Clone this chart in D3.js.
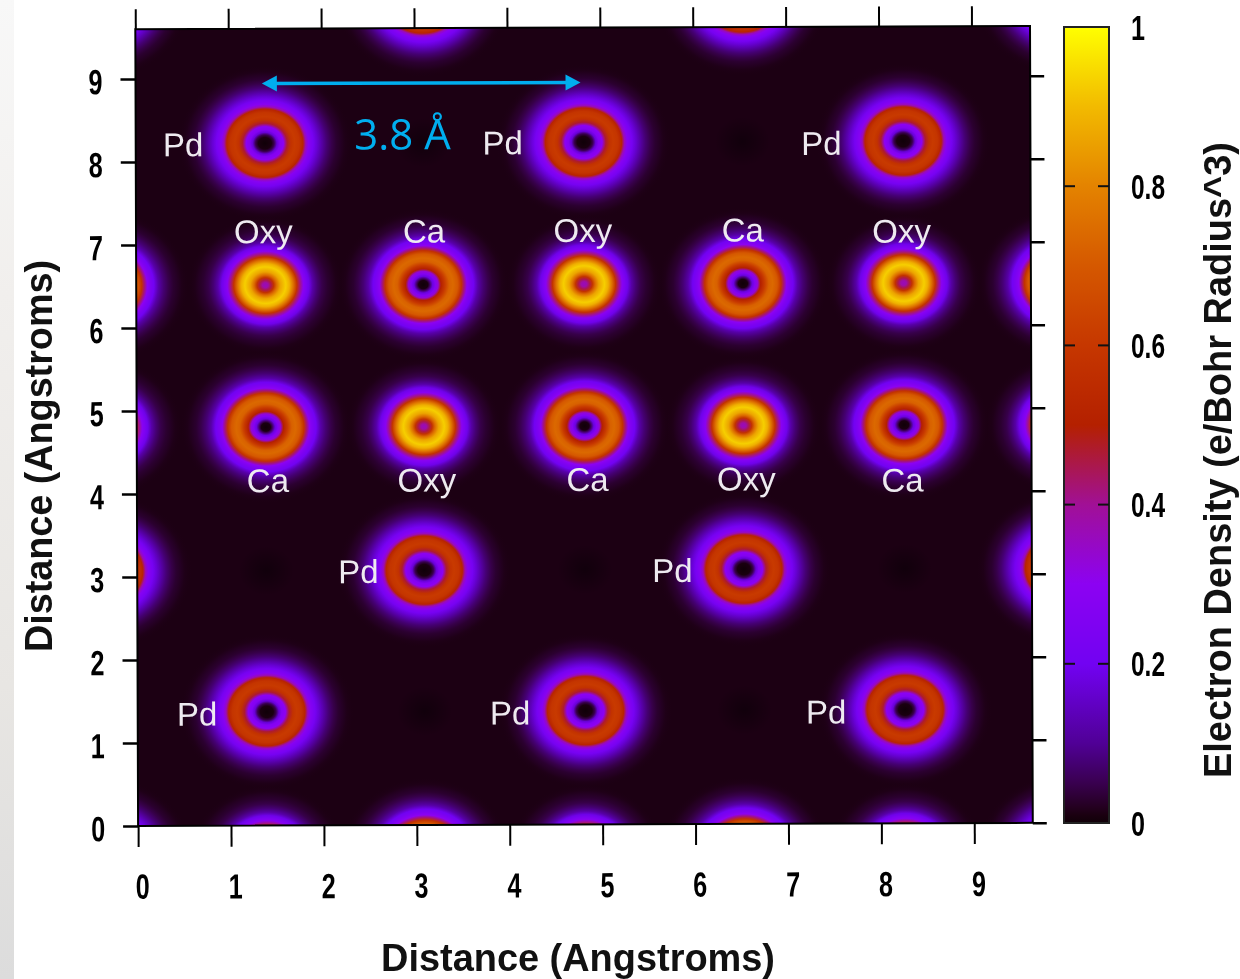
<!DOCTYPE html>
<html>
<head>
<meta charset="utf-8">
<script src="https://cdn.jsdelivr.net/npm/d3@7"></script>
<style>
    html, body { margin: 0; background: #fff; }
    svg { display: block; filter: blur(0.45px); }
    .num { font-family: "Liberation Sans", sans-serif; font-size: 35px; font-weight: 700; fill: #000; }
    .title { font-family: "Liberation Sans", sans-serif; font-size: 38px; font-weight: 700; fill: #111; }
    .atom { font-family: "Liberation Sans", sans-serif; font-size: 33px; fill: #eeeaf0; text-anchor: middle; }
</style>
</head>
<body>
<svg id="chart" width="1240" height="979"></svg>
<script>
// ticks
const distanceTicks = [0, 1, 2, 3, 4, 5, 6, 7, 8, 9];
const densityTicks = [0, 0.2, 0.4, 0.6, 0.8, 1];

// colour bar
const barValues = [0, 0.01, 0.02, 0.05, 0.1, 0.2, 0.3, 0.4, 0.5, 0.6, 0.7, 0.8, 0.9, 1];
const barColours = ['#100008', '#1a0010', '#240020', '#39004f', '#500096', '#7202f2', '#8c02f2', '#a11096', '#b42000', '#c63700', '#d55800', '#e48300', '#f2ba00', '#ffff00'];

// density between the atoms
const backgroundDensity = 0.012;

// radial profiles of each species: radius in Angstroms, density
const caRadius = [0, 0.05, 0.07, 0.10, 0.13, 0.16, 0.19, 0.23, 0.28, 0.32, 0.37, 0.41, 0.44, 0.47, 0.50, 0.54, 0.59, 0.645, 0.70, 0.75, 0.84, 0.92];
const caDensity = [0, 0.01, 0.06, 0.18, 0.27, 0.33, 0.50, 0.60, 0.72, 0.74, 0.70, 0.58, 0.42, 0.30, 0.25, 0.20, 0.12, 0.075, 0.047, 0.03, 0.015, 0.012];
const oxyRadius = [0, 0.03, 0.06, 0.09, 0.12, 0.16, 0.22, 0.26, 0.30, 0.34, 0.38, 0.41, 0.44, 0.47, 0.51, 0.56, 0.61, 0.67, 0.76, 0.84];
const oxyDensity = [0.36, 0.38, 0.45, 0.58, 0.74, 0.86, 0.93, 0.88, 0.76, 0.58, 0.40, 0.29, 0.24, 0.19, 0.12, 0.075, 0.047, 0.03, 0.015, 0.012];
const pdRadius = [0, 0.07, 0.10, 0.13, 0.16, 0.20, 0.24, 0.28, 0.32, 0.37, 0.41, 0.44, 0.47, 0.52, 0.56, 0.61, 0.665, 0.72, 0.77, 0.86, 0.94];
const pdDensity = [0, 0.01, 0.05, 0.17, 0.26, 0.30, 0.47, 0.58, 0.61, 0.59, 0.52, 0.36, 0.28, 0.22, 0.17, 0.12, 0.075, 0.047, 0.03, 0.015, 0.012];

// atom sites: species, x, y
const atoms = [
    ['Pd', 1.39, 8.22], ['Pd', 4.82, 8.22], ['Pd', 8.26, 8.22],
    ['Oxy', 1.39, 6.51], ['Ca', 3.09, 6.51], ['Oxy', 4.82, 6.51], ['Ca', 6.53, 6.51], ['Oxy', 8.26, 6.51],
    ['Ca', 1.39, 4.80], ['Oxy', 3.09, 4.80], ['Ca', 4.82, 4.80], ['Oxy', 6.53, 4.80], ['Ca', 8.26, 4.80],
    ['Pd', 3.09, 3.07], ['Pd', 6.53, 3.07],
    ['Pd', 1.39, 1.37], ['Pd', 4.82, 1.37], ['Pd', 8.26, 1.37],
    // sites just outside the frame, only their edge shows
    ['Ca', -0.35, 6.51], ['Ca', 9.97, 6.51], ['Oxy', -0.35, 4.80], ['Oxy', 9.97, 4.80],
    ['Pd', -0.35, 3.07], ['Pd', 9.97, 3.07],
    ['Pd', 3.09, 9.95], ['Pd', 6.53, 9.95],
    ['Ca', 3.09, -0.35], ['Ca', 6.53, -0.35],
    ['Oxy', 1.39, -0.35], ['Oxy', 4.82, -0.35], ['Oxy', 8.26, -0.35],
    ['Pd', -0.35, 9.95], ['Pd', 9.97, 9.95], ['Pd', -0.35, -0.35], ['Pd', 9.97, -0.35]
];

// darker empty sites
const emptySites = [[1.39, 3.07], [4.82, 3.07], [8.26, 3.07], [3.09, 1.37], [6.53, 1.37], [6.53, 8.22], [3.09, 8.22]];

// atom labels: text, x, y of the label centre
const atomLabels = [
    ['Pd', 0.51, 8.17], ['Pd', 3.95, 8.18], ['Pd', 7.38, 8.16],
    ['Oxy', 1.37, 7.12], ['Ca', 3.10, 7.12], ['Oxy', 4.81, 7.12], ['Ca', 6.53, 7.12], ['Oxy', 8.24, 7.10],
    ['Ca', 1.41, 4.12], ['Oxy', 3.12, 4.12], ['Ca', 4.85, 4.12], ['Oxy', 6.56, 4.12], ['Ca', 8.24, 4.10],
    ['Pd', 2.38, 3.02], ['Pd', 5.76, 3.02],
    ['Pd', 0.64, 1.31], ['Pd', 4.01, 1.31], ['Pd', 7.41, 1.31]
];

// 3.8 A arrow
const arrowX = [1.36, 4.79];
const arrowY = 8.94;
const arrowLabel = '3.8 Å';

const svg = d3.select('#chart');
const defs = svg.append('defs');

const colour = d3.scaleLinear().domain(barValues).range(barColours);

// Faded picture strip on the left of the slide
const strip = defs.append('linearGradient').attr('id', 'strip').attr('x1', 0).attr('x2', 0).attr('y1', 0).attr('y2', 1);
strip.append('stop').attr('offset', 0).attr('stop-color', '#f8f8f8');
strip.append('stop').attr('offset', 0.3).attr('stop-color', '#f1efed');
strip.append('stop').attr('offset', 0.7).attr('stop-color', '#e8e6e3');
strip.append('stop').attr('offset', 1).attr('stop-color', '#dcdcdc');
svg.append('rect').attr('width', 14).attr('height', 979).attr('fill', 'url(#strip)');

// Plot is a slightly tilted screenshot
const plot = svg.append('g').attr('transform', 'rotate(-0.2 585 427)');

const x = d3.scaleLinear().domain([0, 9.63]).range([136.7, 1031.4]);
const y = d3.scaleLinear().domain([0, 9.6]).range([824.4, 27.6]);

defs.append('clipPath').attr('id', 'frame').append('rect')
    .attr('x', x(0)).attr('y', y(9.6)).attr('width', x(9.63) - x(0)).attr('height', y(0) - y(9.6));

const radial = (id, radius, density) => {
    const max = d3.max(radius);
    const g = defs.append('radialGradient').attr('id', id);
    radius.forEach((r, i) => {
        g.append('stop').attr('offset', r / max).attr('stop-color', colour(density[i]))
            .attr('stop-opacity', i === radius.length - 1 ? 0 : 1);
    });
};
radial('Ca', caRadius, caDensity);
radial('Oxy', oxyRadius, oxyDensity);
radial('Pd', pdRadius, pdDensity);

const hole = defs.append('radialGradient').attr('id', 'hole');
hole.append('stop').attr('offset', 0).attr('stop-color', '#000').attr('stop-opacity', 0.4);
hole.append('stop').attr('offset', 1).attr('stop-color', '#000').attr('stop-opacity', 0);

const outerRadius = { Ca: d3.max(caRadius), Oxy: d3.max(oxyRadius), Pd: d3.max(pdRadius) };
const rx = r => x(r) - x(0);
const ry = r => y(0) - y(r);

const map = plot.append('g').attr('clip-path', 'url(#frame)');
map.append('rect')
    .attr('x', x(0)).attr('y', y(9.6)).attr('width', x(9.63) - x(0)).attr('height', y(0) - y(9.6))
    .attr('fill', colour(backgroundDensity));

map.selectAll('.hole').data(emptySites).enter().append('ellipse')
    .attr('class', 'hole')
    .attr('cx', d => x(d[0])).attr('cy', d => y(d[1]))
    .attr('rx', rx(0.3)).attr('ry', ry(0.3))
    .attr('fill', 'url(#hole)');

map.selectAll('.site').data(atoms).enter().append('ellipse')
    .attr('class', 'site')
    .attr('cx', d => x(d[1])).attr('cy', d => y(d[2]))
    .attr('rx', d => rx(outerRadius[d[0]])).attr('ry', d => ry(outerRadius[d[0]]))
    .attr('fill', d => `url(#${d[0]})`);

// Atom labels
plot.selectAll('.atom').data(atomLabels).enter().append('text')
    .attr('class', 'atom')
    .attr('x', d => x(d[1])).attr('y', d => y(d[2]))
    .attr('dy', '0.26em')
    .text(d => d[0]);

// Arrow
const cyan = '#00aeef';
const arrow = plot.append('g').attr('fill', cyan);
arrow.append('line')
    .attr('x1', x(arrowX[0]) + 8).attr('x2', x(arrowX[1]) - 8)
    .attr('y1', y(arrowY)).attr('y2', y(arrowY))
    .attr('stroke', cyan).attr('stroke-width', 3.5);
arrow.selectAll('path').data([[arrowX[0], 1], [arrowX[1], -1]]).enter().append('path')
    .attr('transform', d => `translate(${x(d[0])},${y(arrowY)}) scale(${d[1]},1)`)
    .attr('d', 'M0,0L15,-8L15,8Z');
plot.append('text')
    .attr('x', x((arrowX[0] + arrowX[1]) / 2) - 19).attr('y', y(8.14))
    .attr('text-anchor', 'middle')
    .style('font-family', '"Open Sans", sans-serif').style('font-size', '42px')
    .attr('fill', cyan)
    .text(arrowLabel);

// Frame and ticks
plot.append('rect')
    .attr('x', x(0)).attr('y', y(9.6)).attr('width', x(9.63) - x(0)).attr('height', y(0) - y(9.6))
    .attr('fill', 'none').attr('stroke', '#000').attr('stroke-width', 2);

// digits in the reference are tall and narrow
const narrow = selection => selection
    .attr('textLength', function () { return this.textContent.length === 3 ? 34 : 14; })
    .attr('lengthAdjust', 'spacingAndGlyphs');

const styleAxis = (g, strokeWidth) => {
    g.select('.domain').remove();
    g.selectAll('.tick line').attr('stroke', '#000').attr('stroke-width', strokeWidth);
    g.selectAll('.tick text').attr('class', 'num').attr('fill', null);
};

plot.append('g').attr('transform', `translate(0,${y(0)})`)
    .call(d3.axisBottom(x).tickValues(distanceTicks).tickFormat(d3.format('d')).tickSize(21).tickPadding(27))
    .call(styleAxis, 2)
    .selectAll('.tick text').attr('dx', 4).call(narrow);

plot.append('g').attr('transform', `translate(0,${y(9.6)})`)
    .call(d3.axisTop(x).tickValues(distanceTicks).tickFormat('').tickSize(20))
    .call(styleAxis, 2);

plot.append('g').attr('transform', `translate(${x(0)},0)`)
    .call(d3.axisLeft(y).tickValues(distanceTicks).tickFormat(d3.format('d')).tickSize(15).tickPadding(18))
    .call(styleAxis, 2.5)
    .selectAll('.tick text').attr('dy', '0.42em').call(narrow);

plot.append('g').attr('transform', `translate(${x(9.63)},0)`)
    .call(d3.axisRight(y).tickValues(distanceTicks).tickFormat('').tickSize(14))
    .call(styleAxis, 2.5);

// Colour bar
const barY = d3.scaleLinear().domain([0, 1]).range([823, 27]);
const barLeft = 1064, barRight = 1109;

const barFill = defs.append('linearGradient').attr('id', 'bar').attr('x1', 0).attr('x2', 0).attr('y1', 1).attr('y2', 0);
barValues.forEach((v, i) => {
    barFill.append('stop').attr('offset', v).attr('stop-color', barColours[i]);
});
svg.append('rect')
    .attr('x', barLeft).attr('y', barY(1)).attr('width', barRight - barLeft).attr('height', barY(0) - barY(1))
    .attr('fill', 'url(#bar)').attr('stroke', '#222').attr('stroke-width', 2);

const innerTicks = densityTicks.filter(v => v > 0 && v < 1);
svg.selectAll('.bar-tick-l').data(innerTicks).enter().append('line')
    .attr('x1', barLeft).attr('x2', barLeft + 11)
    .attr('y1', d => barY(d)).attr('y2', d => barY(d))
    .attr('stroke', '#111').attr('stroke-width', 2);
svg.selectAll('.bar-tick-r').data(innerTicks).enter().append('line')
    .attr('x1', barRight - 11).attr('x2', barRight)
    .attr('y1', d => barY(d)).attr('y2', d => barY(d))
    .attr('stroke', '#111').attr('stroke-width', 2);

svg.selectAll('.bar-label').data(densityTicks).enter().append('text')
    .attr('class', 'num bar-label')
    .attr('x', 1131)
    .attr('y', d => barY(d))
    .attr('dy', '0.36em')
    .text(d => d)
    .call(narrow);

// Axis titles
svg.append('text').attr('class', 'title')
    .attr('x', 578).attr('y', 971)
    .attr('text-anchor', 'middle')
    .attr('textLength', 394).attr('lengthAdjust', 'spacingAndGlyphs')
    .text('Distance (Angstroms)');

svg.append('text').attr('class', 'title')
    .attr('transform', 'translate(52,456) rotate(-90)')
    .attr('text-anchor', 'middle')
    .attr('textLength', 392).attr('lengthAdjust', 'spacingAndGlyphs')
    .text('Distance (Angstroms)');

svg.append('text').attr('class', 'title')
    .attr('transform', 'translate(1231,460) rotate(-90)')
    .attr('text-anchor', 'middle')
    .attr('textLength', 636).attr('lengthAdjust', 'spacingAndGlyphs')
    .text('Electron Density (e/Bohr Radius^3)');
</script>
</body>
</html>
